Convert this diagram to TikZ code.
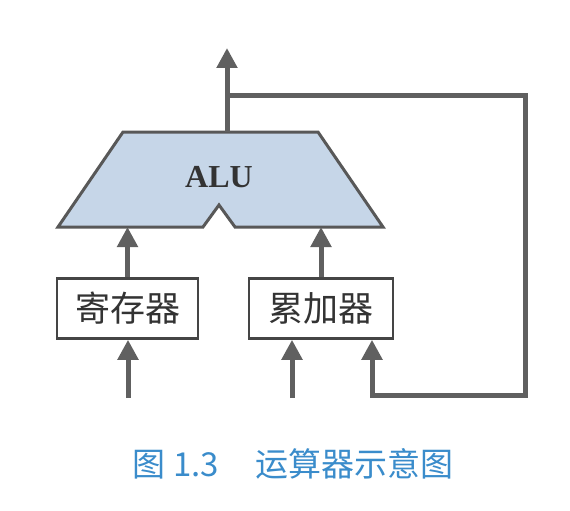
\documentclass[tikz,border=0pt]{standalone}
\usepackage{fontspec}
\setmainfont{Liberation Serif}
\newfontfamily\cjk{Noto Sans CJK SC}
\usetikzlibrary{arrows.meta}
\definecolor{linegray}{HTML}{606060}
\definecolor{boxgray}{HTML}{454545}
\definecolor{alufill}{HTML}{C6D6E8}
\definecolor{capblue}{HTML}{3A8CCB}
\begin{document}
\begin{tikzpicture}[x=1pt,y=-1pt,
  wire/.style={draw=linegray,line width=5pt},
  arr/.style={wire,-{Triangle[width=20pt,length=20pt]}},
  regbox/.style={draw=boxgray,line width=2.5pt,fill=white,minimum height=60pt,inner sep=0pt,font=\cjk\fontsize{35}{38}\selectfont,text=black!80},
]
\useasboundingbox (0,0) rectangle (570,511);
% ALU trapezoid
\filldraw[fill=alufill,draw=boxgray!90,line width=3pt,line join=miter]
  (123,132) -- (318,132) -- (383,227) -- (235,227) -- (219,205) -- (203,227) -- (58,227) -- cycle;
\node[font=\bfseries\fontsize{32}{36}\selectfont,text=black!80] (alu) at (219,177) {ALU};
\coordinate (alubot) at (0,227);
\coordinate (alutop) at (227,132);
\coordinate (outtip) at (227,48);
\coordinate (branch) at (227,95);
\coordinate (c1) at (525,95);
\coordinate (c2) at (525,395);
\coordinate (c3) at (372,395);
\coordinate (in1) at (128,398);
\coordinate (in2) at (292,398);
% boxes
\node[regbox,minimum width=141pt] (reg) at (127.5,308.5) {寄存器};
\node[regbox,minimum width=144pt] (acc) at (321,308.5) {累加器};
% arrows
\draw[arr] (reg.north) -- (reg.north |- alubot);
\draw[arr] (acc.north) -- (acc.north |- alubot);
\draw[arr] (in1) -- (in1 |- reg.south);
\draw[arr] (in2) -- (in2 |- acc.south);
\draw[arr] (alutop) -- (outtip);
\draw[arr,line join=miter] (branch) -- (c1) -- (c2) -- (c3) -- (c3 |- acc.south);
% caption
\node[font=\cjk\fontsize{33}{36}\selectfont,text=capblue] (cap) at (293,464) {图 1.3\hspace{1.1em}运算器示意图};
\end{tikzpicture}
\end{document}
